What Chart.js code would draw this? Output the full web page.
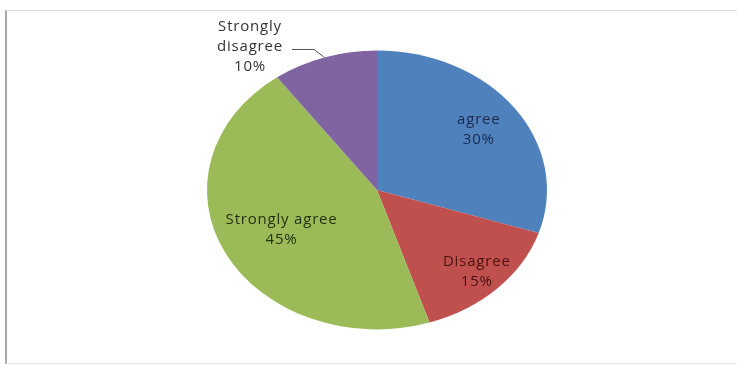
<!DOCTYPE html>
<html>
<head>
<meta charset="utf-8">
<script src="https://cdn.jsdelivr.net/npm/chart.js@4.4.1/dist/chart.umd.min.js"></script>
<style>
  html, body { margin: 0; padding: 0; background: #fff; }
  #wrap { position: relative; width: 737px; height: 367px; overflow: hidden; }
  #frame { position: absolute; left: 5px; top: 10px; width: 740px; height: 352px;
           border-left: 2px solid #a8a8a8; border-top: 1px solid #dcdcdc; border-bottom: 1px solid #e4e4e4; }
  canvas { position: absolute; left: 0; top: 0; }
</style>
</head>
<body>
<div id="wrap">
  <div id="frame"></div>
  <canvas id="pie" width="737" height="367"></canvas>
</div>
<script>
// dati (senso orario partendo dall'alto)
const labels = ['agree', 'Disagree', 'Strongly agree', 'Strongly disagree'];
const values = [30, 15, 45, 10];
const colors = ['#4F81BD', '#C0504D', '#9BBB59', '#8064A2'];
const textColors = ['#1c2b4c', '#4a1212', '#22330f', '#333333'];

// il grafico originale è un'ellisse: schiaccio in verticale
const SQUASH = 0.82;

// posizione etichette: frazione del raggio, -1 = etichetta esterna con linea guida
const labelRadius = [0.74, 0.83, 0.63, -1];
const labelLines = [
  ['agree', '30%'],
  ['Disagree', '15%'],
  ['Strongly agree', '45%'],
  ['Strongly', 'disagree', '10%']
];

const ellipsePlugin = {
  id: 'ellipse',
  beforeDatasetsDraw(chart) {
    const arc = chart.getDatasetMeta(0).data[0];
    const ctx = chart.ctx;
    ctx.save();
    ctx.translate(arc.x, arc.y);
    ctx.scale(1, SQUASH);
    ctx.translate(-arc.x, -arc.y);
  },
  afterDatasetsDraw(chart) {
    const ctx = chart.ctx;
    ctx.restore();

    const arcs = chart.getDatasetMeta(0).data;
    ctx.save();
    ctx.font = '15px "Open Sans", sans-serif';
    ctx.letterSpacing = '0.8px';
    ctx.textAlign = 'center';
    ctx.textBaseline = 'middle';
    const lh = 20;
    arcs.forEach((a, i) => {
      const mid = (a.startAngle + a.endAngle) / 2;
      const lines = labelLines[i];
      ctx.fillStyle = textColors[i];
      if (labelRadius[i] > 0) {
        const r = a.outerRadius * labelRadius[i];
        const x = a.x + Math.cos(mid) * r;
        const y = a.y + Math.sin(mid) * r * SQUASH;
        lines.forEach((t, k) => ctx.fillText(t, x, y + (k - (lines.length - 1) / 2) * lh));
      } else {
        // etichetta esterna (Strongly disagree) con linea guida
        const ex = a.x + Math.cos(mid) * a.outerRadius;
        const ey = a.y + Math.sin(mid) * a.outerRadius * SQUASH;
        const tx = 250, ty = 47;
        lines.forEach((t, k) => ctx.fillText(t, tx, ty + (k - 1) * lh));
        ctx.strokeStyle = '#555';
        ctx.lineWidth = 1;
        ctx.beginPath();
        ctx.moveTo(292, 49.5);
        ctx.lineTo(314, 49.5);
        ctx.lineTo(ex, ey);
        ctx.stroke();
      }
    });
    ctx.restore();
  }
};

new Chart(document.getElementById('pie'), {
  type: 'pie',
  data: {
    labels: labels,
    datasets: [{
      data: values,
      backgroundColor: colors,
      borderWidth: 0
    }]
  },
  options: {
    responsive: false,
    animation: false,
    layout: { padding: { left: 207, right: 190, top: 20, bottom: 7 } },
    plugins: { legend: { display: false }, tooltip: { enabled: false } }
  },
  plugins: [ellipsePlugin]
});
</script>
</body>
</html>
